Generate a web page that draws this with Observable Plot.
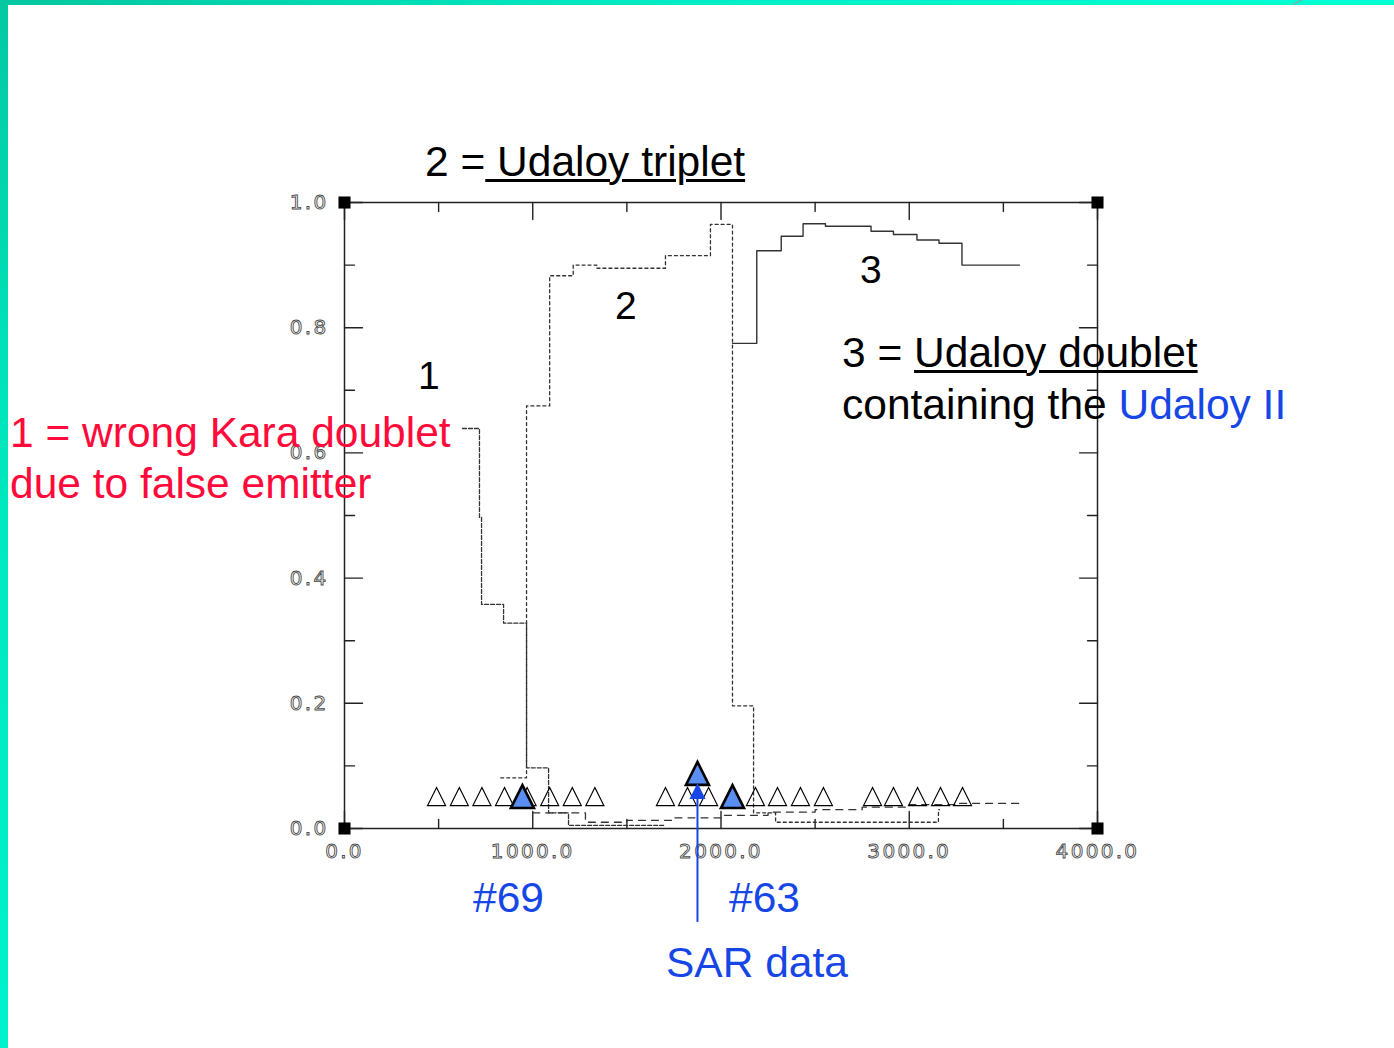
<!DOCTYPE html>
<html>
<head>
<meta charset="utf-8">
<script src="https://cdn.jsdelivr.net/npm/d3@7"></script>
<script src="https://cdn.jsdelivr.net/npm/@observablehq/plot@0.6"></script>
<style>
  html, body { margin: 0; padding: 0; background: #fff; }
  #page { position: relative; width: 1394px; height: 1048px; overflow: hidden; background: #fff;
          font-family: "Liberation Sans", Arial, sans-serif; }
  #chart { position: absolute; left: 0; top: 0; }
  .bar-top { position: absolute; left: 0; top: 0; width: 1394px; height: 5px;
             background: linear-gradient(90deg, #04c6a0 0%, #00eec6 50%, #00ffd4 100%); }
  .bar-left { position: absolute; left: 0; top: 0; width: 8px; height: 1048px;
              background: linear-gradient(180deg, #04c8a2 0%, #00e6bc 40%, #00f2cc 100%); }
  .nick { position: absolute; left: 1293px; top: 4px; width: 30px; height: 1px; background: #9a9a9a;
          transform: rotate(-28deg); transform-origin: left center; }
  .ann { position: absolute; white-space: nowrap; font-size: 42.5px; line-height: 42px; color: #000; }
  .num { font-size: 39px; line-height: 39px; }
  .red { color: #ff0a3a; }
  .blue { color: #1646e6; }
  .ul { text-decoration: underline; text-decoration-thickness: 3px; text-underline-offset: 3px; }
  #chart svg g[aria-label$="tick label"] text { fill: #fff; stroke: #4a4a4a; stroke-width: 0.9px; letter-spacing: 2.3px; }
</style>
</head>
<body>
<div id="page">
  <div id="chart"></div>
  <div class="bar-top"></div>
  <div class="bar-left"></div>
  <div class="nick"></div>
  <div class="ann" style="left:425px;top:141px">2 =<span class="ul"> Udaloy triplet</span></div>
  <div class="ann" style="left:842px;top:332px">3 = <span class="ul">Udaloy doublet</span></div>
  <div class="ann" style="left:842px;top:384px">containing the <span class="blue">Udaloy II</span></div>
  <div class="ann red" style="left:10px;top:412px">1 = wrong Kara doublet</div>
  <div class="ann red" style="left:10px;top:463px">due to false emitter</div>
  <div class="ann blue" style="left:473px;top:877px">#69</div>
  <div class="ann blue" style="left:729px;top:877px">#63</div>
  <div class="ann blue" style="left:666px;top:942px">SAR data</div>
  <div class="ann num" style="left:418px;top:356px">1</div>
  <div class="ann num" style="left:615px;top:286px">2</div>
  <div class="ann num" style="left:860px;top:250px">3</div>
</div>
<script>
// ---- tick values ----
const xMajor = [0, 1000, 2000, 3000, 4000];
const xMinor = [500, 1500, 2500, 3500];
const yMajor = [0, 0.2, 0.4, 0.6, 0.8, 1.0];
const yMinor = [0.1, 0.3, 0.5, 0.7, 0.9];

// ---- curve 1: wrong Kara doublet (dashed) ----
const c1x = [627, 717, 728, 845, 967, 1084, 1190, 1700];
const c1y = [0.639, 0.497, 0.358, 0.328, 0.097, 0.025, 0.005, 0.005];

// ---- curve 2: Udaloy triplet (dotted) ----
const c2x = [830, 967, 1090, 1215, 1340, 1705, 1944, 2061, 2173, 2290, 3155, 3160];
const c2y = [0.081, 0.675, 0.883, 0.9, 0.895, 0.915, 0.965, 0.196, 0.025, 0.01, 0.03, 0.03];

// ---- curve 3: Udaloy doublet (solid) ----
const c3x = [2061, 2190, 2320, 2436, 2555, 2797, 2916, 3041, 3158, 3280, 3586];
const c3y = [0.775, 0.923, 0.946, 0.966, 0.962, 0.954, 0.949, 0.94, 0.935, 0.9, 0.9];

// ---- low background track (long dashes) ----
const c4x = [1000, 1280, 1500, 1750, 2000, 2250, 2500, 2750, 3000, 3250, 3600];
const c4y = [0.025, 0.01, 0.013, 0.017, 0.021, 0.026, 0.03, 0.034, 0.038, 0.04, 0.04];

// ---- sensor reports (open triangles) ----
const reportX = [489, 610, 730, 850, 970, 1090, 1210, 1330,
                 1705, 1822, 1934, 2056, 2183, 2300, 2422, 2544,
                 2805, 2916, 3044, 3166, 3283];
const reportY = 0.051;

// ---- highlighted reports (#69, SAR, #63) ----
const keyX = [945, 1875, 2061];
const keyY = [0.051, 0.088, 0.051];

// ---- SAR arrow ----
const sarX = 1875;
const sarFrom = -0.15;
const sarTo = 0.05;
const sarHead = 0.06;

// ---- frame corners ----
const cornerX = [0, 4000, 0, 4000];
const cornerY = [0, 0, 1, 1];

const zip = (xs, ys) => xs.map((x, i) => ({x, y: Array.isArray(ys) ? ys[i] : ys}));
const tri = {draw(ctx, size) { const r = Math.sqrt(size / Math.PI); ctx.moveTo(0, -r); ctx.lineTo(r, r); ctx.lineTo(-r, r); ctx.closePath(); }};
const tickShape = {draw(ctx, l) { ctx.moveTo(0, 0); ctx.lineTo(0, -l); }};
const fmt = d3.format(".1f");
const ink = "#222";
const blue = "#1646e6";

const vec = (data, ch, anchor, rotate, length) =>
  Plot.vector(data, {[ch]: d => d, frameAnchor: anchor, rotate, length, anchor: "start", shape: tickShape, stroke: ink, strokeWidth: 1.4});

const chart = Plot.plot({
  width: 1394,
  height: 1048,
  marginLeft: 344,
  marginRight: 297,
  marginTop: 202,
  marginBottom: 220,
  style: {background: "transparent", fontFamily: "DejaVu Sans, sans-serif", fontSize: "20px", overflow: "visible"},
  x: {domain: [0, 4000]},
  y: {domain: [0, 1]},
  marks: [
    Plot.frame({stroke: ink, strokeWidth: 1.5}),
    vec(xMajor, "x", "bottom", 0, 17), vec(xMinor, "x", "bottom", 0, 9),
    vec(xMajor, "x", "top", 180, 17), vec(xMinor, "x", "top", 180, 9),
    vec(yMajor, "y", "left", 90, 18), vec(yMinor, "y", "left", 90, 10),
    vec(yMajor, "y", "right", -90, 18), vec(yMinor, "y", "right", -90, 10),
    Plot.axisX({anchor: "bottom", ticks: xMajor, tickSize: 0, tickPadding: 15, tickFormat: fmt, label: null}),
    Plot.axisY({anchor: "left", ticks: yMajor, tickSize: 0, tickPadding: 16, tickFormat: fmt, label: null}),
    Plot.line(zip(c4x, c4y), {x: "x", y: "y", curve: "step-after", stroke: "#333", strokeWidth: 1.3, strokeDasharray: "7,6"}),
    Plot.line(zip(c1x, c1y), {x: "x", y: "y", curve: "step-after", stroke: "#333", strokeWidth: 1.3, strokeDasharray: "4,2"}),
    Plot.line(zip(c2x, c2y), {x: "x", y: "y", curve: "step-after", stroke: "#333", strokeWidth: 1.3, strokeDasharray: "3,3"}),
    Plot.line(zip(c3x, c3y), {x: "x", y: "y", curve: "step-after", stroke: "#333", strokeWidth: 1.4}),
    Plot.dot(zip(reportX, reportY), {x: "x", y: "y", symbol: tri, r: 9, fill: "none", stroke: "#000", strokeWidth: 1.2}),
    Plot.dot(zip(keyX, keyY), {x: "x", y: "y", symbol: tri, r: 11.5, fill: "#5b8ef2", stroke: "#000", strokeWidth: 2.6}),
    Plot.ruleX([sarX], {x: d => d, y1: sarFrom, y2: sarTo, stroke: blue, strokeWidth: 2}),
    Plot.dot([sarX], {x: d => d, y: sarHead, symbol: tri, r: 8, fill: blue, stroke: "none"}),
    Plot.dot(zip(cornerX, cornerY), {x: "x", y: "y", symbol: "square", r: 6.8, fill: "#000"})
  ]
});
document.getElementById("chart").appendChild(chart);
</script>
</body>
</html>
